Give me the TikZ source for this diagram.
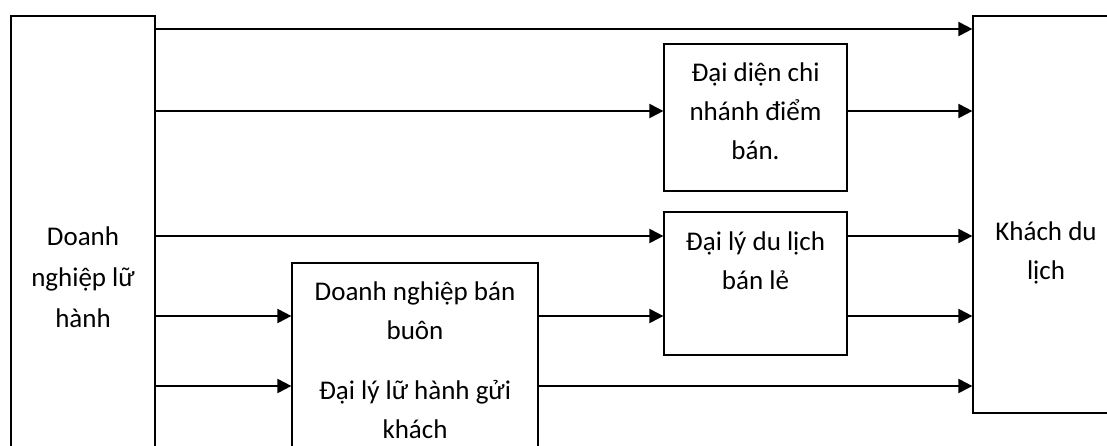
\documentclass[tikz,border=0pt]{standalone}
\usepackage{fontspec}
\setmainfont{Carlito}
\usetikzlibrary{arrows.meta}
\begin{document}
\begin{tikzpicture}[x=1pt,y=-1pt,
  box/.style={draw, line width=1.2pt, inner sep=0pt},
  txt/.style={align=center, inner sep=0pt, font=\fontsize{27}{39}\selectfont},
  arr/.style={line width=2pt, -{Triangle[length=14pt,width=14pt]}}]
\clip (0,0) rectangle (1107,445);
\fill[white] (0,0) rectangle (1107,445);
% boxes
\node[box, minimum width=144pt, minimum height=522pt, align=center,
      font=\fontsize{27}{41}\selectfont] (dn) at (83,277) {Doanh\\nghiệp lữ\\hành};
\node[box, minimum width=150pt, minimum height=397pt] (kh) at (1048,214.5) {};
\node[txt] (khT) at (1046,253) {Khách du\\lịch};
\node[box, minimum width=183pt, minimum height=147pt] (dd) at (755.5,117.5) {};
\node[txt] (ddT) at (755.5,111.5) {Đại diện chi\\nhánh điểm\\bán.};
\node[box, minimum width=183pt, minimum height=143pt] (dl) at (755.5,283.5) {};
\node[txt] (dlT) at (755.5,261) {Đại lý du lịch\\bán lẻ};
\node[box, minimum width=246pt, minimum height=300pt] (bb) at (415,413) {};
\node[txt] (bbT1) at (415,311) {Doanh nghiệp bán\\buôn};
\node[txt] (bbT2) at (415,409) {Đại lý lữ hành gửi\\khách};
% levels
\coordinate (l1) at (0,29);
\coordinate (l2) at (0,111);
\coordinate (l3) at (0,236);
\coordinate (l4) at (0,316);
\coordinate (l5) at (0,386);
% connectors
\draw[arr] (dn.east |- l1) -- (kh.west |- l1);
\draw[arr] (dn.east |- l2) -- (dd.west |- l2);
\draw[arr] (dd.east |- l2) -- (kh.west |- l2);
\draw[arr] (dn.east |- l3) -- (dl.west |- l3);
\draw[arr] (dl.east |- l3) -- (kh.west |- l3);
\draw[arr] (dn.east |- l4) -- (bb.west |- l4);
\draw[arr] (bb.east |- l4) -- (dl.west |- l4);
\draw[arr] (dl.east |- l4) -- (kh.west |- l4);
\draw[arr] (dn.east |- l5) -- (bb.west |- l5);
\draw[arr] (bb.east |- l5) -- (kh.west |- l5);
\end{tikzpicture}
\end{document}
